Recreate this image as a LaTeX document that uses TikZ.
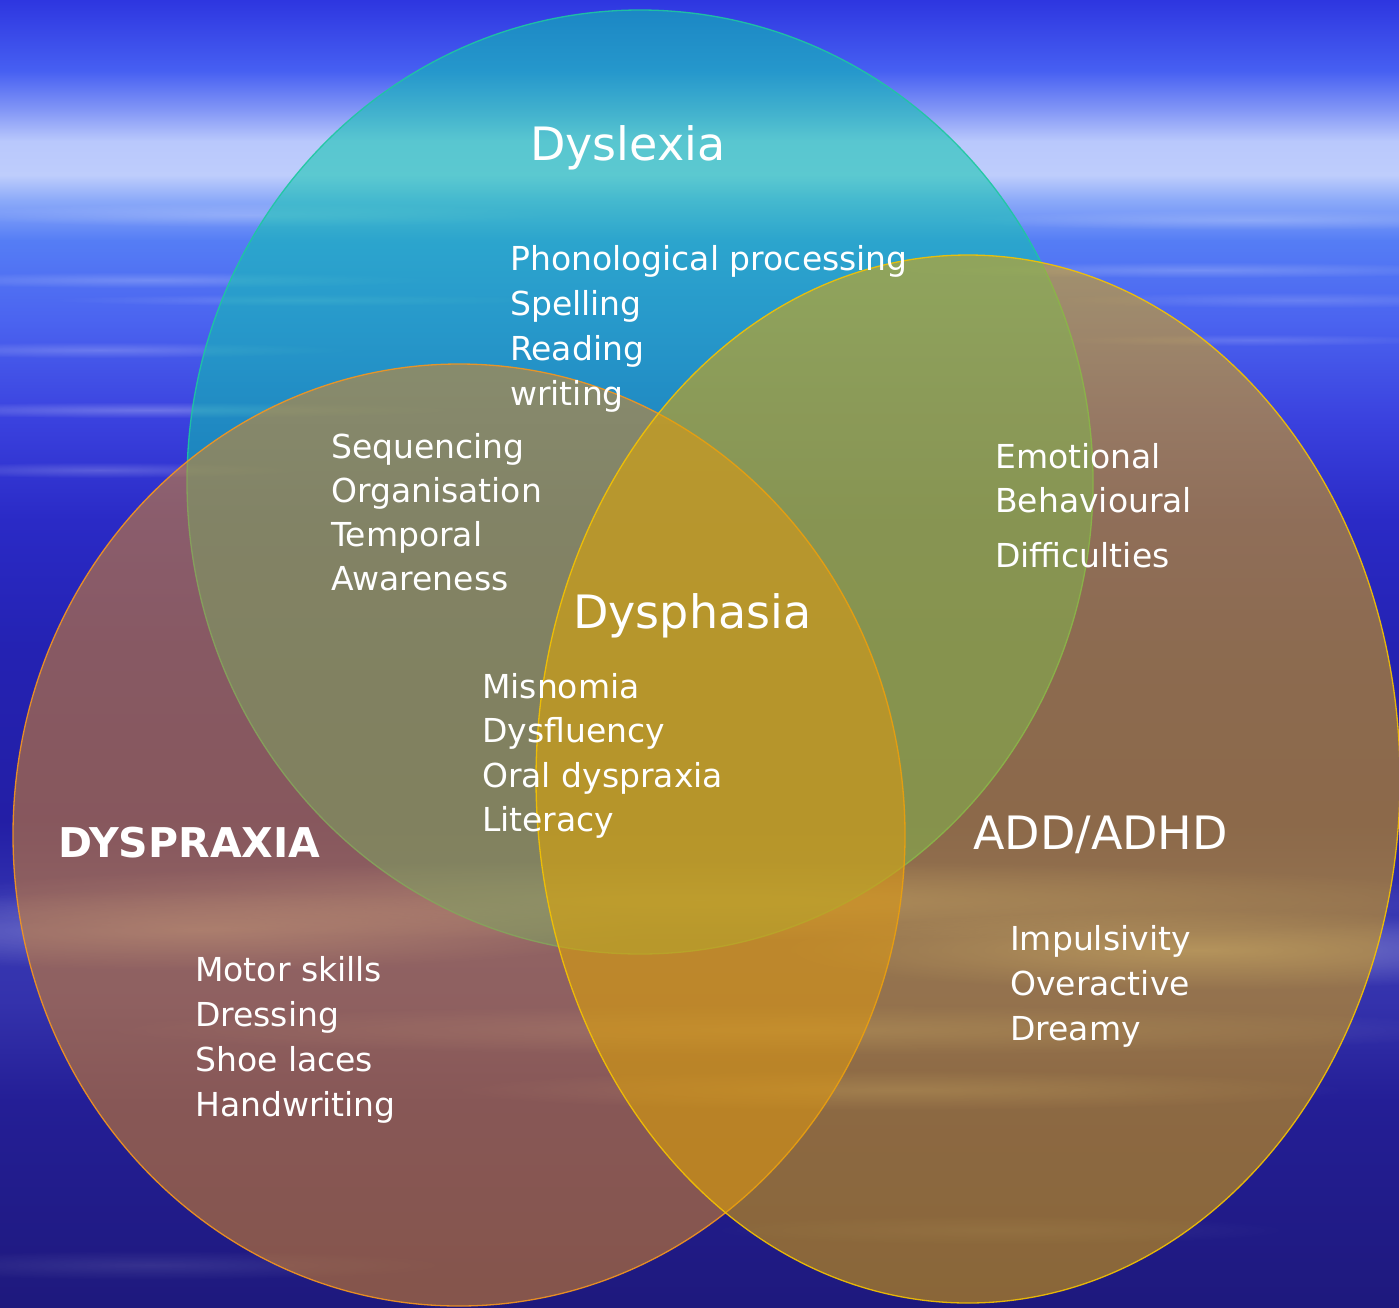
\documentclass[tikz,border=0pt]{standalone}
\usepackage{fontspec}
\setmainfont{DejaVu Sans}
\usetikzlibrary{fadings}

% sky behind the sets (stops 25bp..75bp cover the picture)
\pgfdeclareverticalshading{sky}{100bp}{%
  rgb(0bp)=(0.118,0.098,0.49);
  rgb(25bp)=(0.118,0.098,0.49);
  rgb(32.9bp)=(0.141,0.118,0.588);
  rgb(36.7bp)=(0.204,0.196,0.675);
  rgb(39.4bp)=(0.216,0.216,0.698);
  rgb(43.6bp)=(0.137,0.118,0.647);
  rgb(50.1bp)=(0.141,0.133,0.698);
  rgb(55.1bp)=(0.165,0.165,0.776);
  rgb(58.9bp)=(0.227,0.255,0.871);
  rgb(62.8bp)=(0.294,0.392,0.941);
  rgb(65.8bp)=(0.333,0.49,0.961);
  rgb(67.35bp)=(0.549,0.667,0.976);
  rgb(68.3bp)=(0.745,0.804,0.988);
  rgb(69.6bp)=(0.725,0.784,0.988);
  rgb(70.8bp)=(0.51,0.588,0.965);
  rgb(72.3bp)=(0.275,0.373,0.949);
  rgb(75bp)=(0.18,0.212,0.878);
  rgb(100bp)=(0.18,0.212,0.878)}
\tikzfading[name=haze, inner color=transparent!0, outer color=transparent!100]

\definecolor{lexfill}{RGB}{11,198,173}
\definecolor{lexline}{RGB}{30,200,160}
\definecolor{praxfill}{RGB}{218,135,35}
\definecolor{praxline}{RGB}{245,150,30}
\definecolor{adhdfill}{RGB}{227,167,0}
\definecolor{adhdline}{RGB}{245,195,0}

\begin{document}
\begin{tikzpicture}[x=1pt, y=-1pt,
  set/.style={fill opacity=0.55, draw opacity=0.9, line width=1.3pt},
  streak/.style={fill=white, path fading=haze},
  title/.style={text=white, anchor=base west, inner sep=0pt,
    font=\fontsize{46}{55}\selectfont},
  item/.style={text=white, anchor=base west, inner sep=0pt,
    font=\fontsize{33}{45}\selectfont}]

  \path[use as bounding box] (0,0) rectangle (1399,1307);
  \clip (0,0) rectangle (1399,1307);

  % background
  \shade[shading=sky] (0,0) rectangle (1399,1307);
  \foreach \cx/\cy/\rx/\ry/\op in {250/215/300/12/0.2, 150/280/280/8/0.2,
      300/300/250/6/0.15, 100/350/250/8/0.2, 150/410/300/8/0.25,
      100/470/200/8/0.2, 1250/220/300/10/0.2, 1200/270/300/8/0.2,
      1300/300/250/8/0.15, 1250/340/200/6/0.15, 700/900/800/40/0.3,
      200/930/450/40/0.3, 1200/950/420/40/0.35, 800/1030/700/25/0.2,
      900/1090/450/20/0.2, 150/1265/300/15/0.1, 1000/1230/300/15/0.08}
    \fill[streak, fill opacity=\op] (\cx,\cy) ellipse [x radius=\rx, y radius=\ry];

  % the three sets
  \filldraw[set, fill=lexfill, draw=lexline] (640,482) ellipse [x radius=453, y radius=472];
  \filldraw[set, fill=praxfill, draw=praxline] (459,835) ellipse [x radius=446, y radius=471];
  \filldraw[set, fill=adhdfill, draw=adhdline] (968,779) ellipse [x radius=432, y radius=524];

  % headings
  \node[title] (dyslexia) at (530,160) {Dyslexia};
  \node[title] (dysphasia) at (573,628) {Dysphasia};
  \node[title] (adhd) at (973,849) {ADD/ADHD};
  \node[title, font=\fontsize{41}{50}\selectfont\bfseries] (dyspraxia) at (58,857) {DYSPRAXIA};

  % lists
  \foreach \t [count=\i from 0] in {Phonological processing, Spelling, Reading, writing}
    \node[item] (lex-\i) at (510,270+45*\i) {\t};
  \foreach \t [count=\i from 0] in {Sequencing, Organisation, Temporal, Awareness}
    \node[item] (seq-\i) at (331,458+44*\i) {\t};
  \foreach \t/\y [count=\i from 0] in {Emotional/468, Behavioural/512, Difficulties/567}
    \node[item] (emo-\i) at (995,\y) {\t};
  \foreach \t [count=\i from 0] in {Misnomia, Dysfluency, Oral dyspraxia, Literacy}
    \node[item] (phas-\i) at (482,698+44.5*\i) {\t};
  \foreach \t [count=\i from 0] in {Motor skills, Dressing, Shoe laces, Handwriting}
    \node[item] (motor-\i) at (195,981+45*\i) {\t};
  \foreach \t [count=\i from 0] in {Impulsivity, Overactive, Dreamy}
    \node[item] (imp-\i) at (1010,950+45*\i) {\t};
\end{tikzpicture}
\end{document}
